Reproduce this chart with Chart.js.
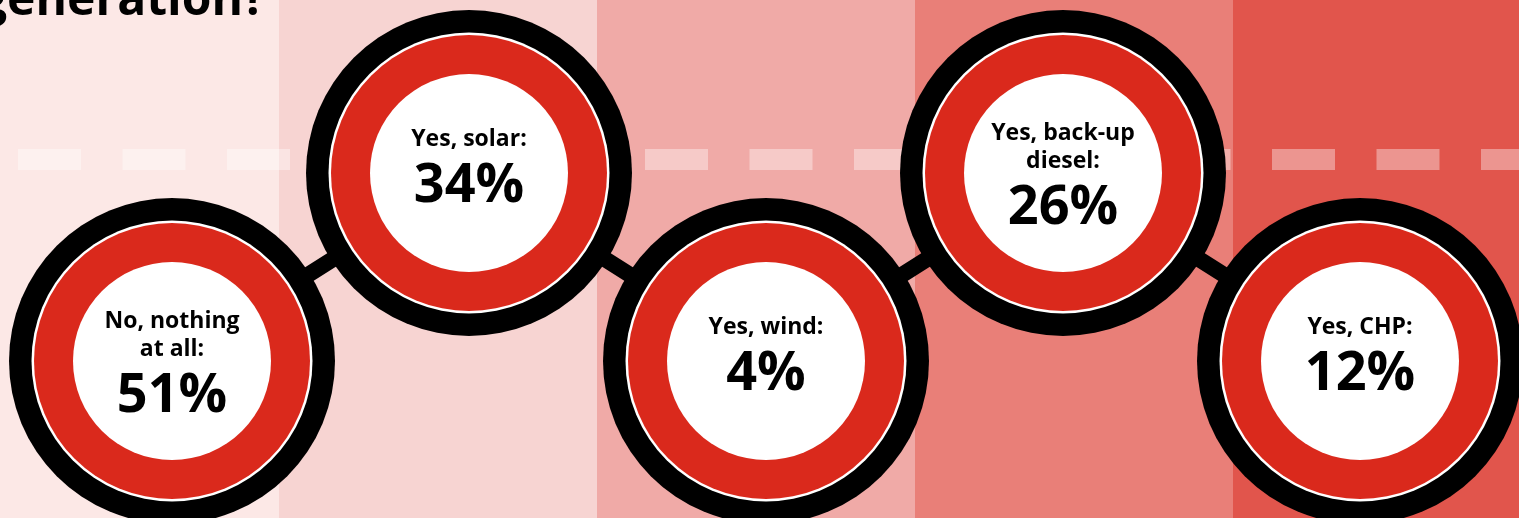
<!DOCTYPE html>
<html lang="en">
<head>
<meta charset="utf-8">
<title>Own generation</title>
<script src="https://cdn.jsdelivr.net/npm/chart.js@4.4.1/dist/chart.umd.min.js"></script>
<style>
  html, body { margin: 0; padding: 0; overflow: hidden; background: #fce8e6; }
  #wrap { position: relative; width: 1519px; height: 518px; }
</style>
</head>
<body>
<div id="wrap"><canvas id="generationChart"></canvas></div>
<script>
// ── DATA ──
const categories = ['No, nothing at all', 'Yes, solar', 'Yes, wind', 'Yes, back-up diesel', 'Yes, CHP'];
const labelLines = [['No, nothing', 'at all:'], ['Yes, solar:'], ['Yes, wind:'], ['Yes, back-up', 'diesel:'], ['Yes, CHP:']];
const shares = [51, 34, 4, 26, 12];
// zigzag row of each badge (0 = lower row, 1 = upper row)
const rowLevel = [0, 1, 0, 1, 0];

// ── STYLE ──
const bandColors = ['#fce8e6', '#f7d4d2', '#f0aaa7', '#e97f78', '#e1554c'];
const RED = '#da291c';
const FONT = '"Open Sans", "Noto Sans", sans-serif';

// Background stripes, dashed guide and the cropped title
const backdropPlugin = {
    id: 'backdrop',
    beforeDatasetsDraw(chart) {
        const { ctx, width, height } = chart;
        ctx.save();

        const bandW = 318;
        bandColors.forEach((c, i) => {
            ctx.fillStyle = c;
            ctx.fillRect(-39 + i * bandW, 0, bandW, height);
        });

        ctx.strokeStyle = 'rgba(255,255,255,0.38)';
        ctx.lineWidth = 21;
        ctx.setLineDash([63, 41.5]);
        ctx.beginPath();
        ctx.moveTo(18, 159.5);
        ctx.lineTo(width, 159.5);
        ctx.stroke();
        ctx.setLineDash([]);

        ctx.fillStyle = '#000';
        ctx.font = `700 48px ${FONT}`;
        ctx.textAlign = 'left';
        ctx.textBaseline = 'alphabetic';
        ctx.fillText('generation?', -20, 15);
        ctx.restore();
    }
};

// Text inside every badge
const badgeTextPlugin = {
    id: 'badgeText',
    afterDatasetsDraw(chart) {
        const { ctx } = chart;
        const meta = chart.getDatasetMeta(0);
        ctx.save();
        ctx.fillStyle = '#000';
        ctx.textAlign = 'center';
        ctx.textBaseline = 'alphabetic';

        meta.data.forEach((pt, i) => {
            const lines = labelLines[i];
            const n = lines.length;
            const first = pt.y - 27 - 6 * (n - 1);

            ctx.font = `700 23px ${FONT}`;
            lines.forEach((t, k) => ctx.fillText(t, pt.x, first + k * 28));

            ctx.font = `700 54px ${FONT}`;
            ctx.fillText(shares[i] + '%', pt.x, first + (n - 1) * 28 + 56);
        });
        ctx.restore();
    }
};

function ringLayer(radius, color, order, extra) {
    return Object.assign({
        data: rowLevel,
        showLine: false,
        pointRadius: radius,
        pointBackgroundColor: color,
        pointBorderWidth: 0,
        clip: false,
        order: order
    }, extra || {});
}

function renderChart() {
    const ctx = document.getElementById('generationChart');
    new Chart(ctx, {
        type: 'line',
        data: {
            labels: categories,
            datasets: [
                ringLayer(163, '#000', 4, {
                    showLine: true,
                    borderColor: '#000',
                    borderWidth: 16,
                    tension: 0
                }),
                ringLayer(140.5, '#fff', 3),
                ringLayer(138, RED, 2),
                ringLayer(99, '#fff', 1)
            ]
        },
        options: {
            responsive: true,
            maintainAspectRatio: false,
            animation: false,
            events: [],
            layout: {
                autoPadding: false,
                padding: { left: 172, right: 159, top: 173, bottom: 157 }
            },
            scales: {
                x: { display: false },
                y: { display: false, min: 0, max: 1 }
            },
            plugins: {
                legend: { display: false },
                tooltip: { enabled: false }
            }
        },
        plugins: [backdropPlugin, badgeTextPlugin]
    });
}

document.addEventListener('DOMContentLoaded', renderChart);
</script>
</body>
</html>
